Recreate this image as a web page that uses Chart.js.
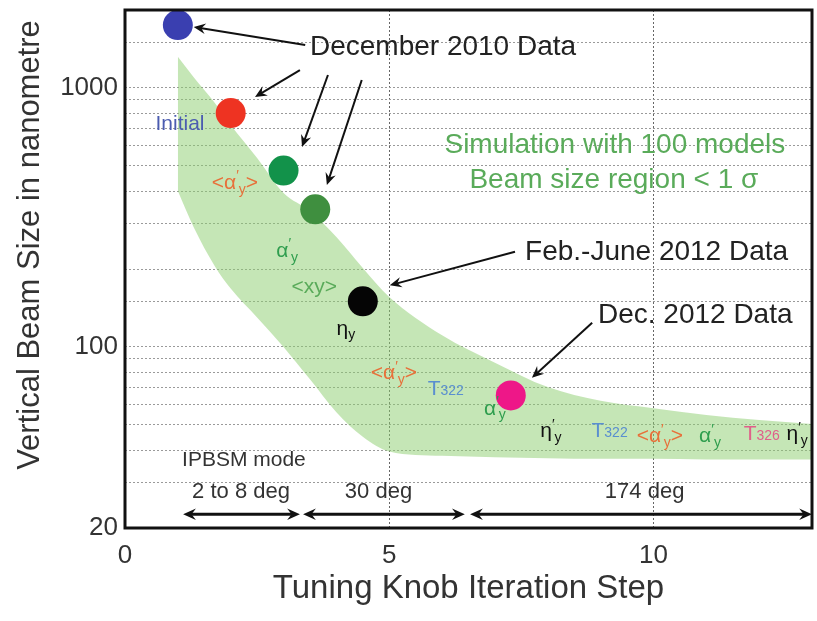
<!DOCTYPE html>
<html>
<head>
<meta charset="utf-8">
<script src="https://cdn.jsdelivr.net/npm/chart.js@4.4.0/dist/chart.umd.min.js"></script>
<style>
  html, body { margin: 0; padding: 0; background: #fff; }
</style>
</head>
<body>
<canvas id="beamChart" width="817" height="621"></canvas>
<script>
// measured beam size at each tuning step
const stepX = [1, 2, 3, 3.6, 4.5, 7.3];
const beamSize = [1750, 800, 480, 340, 150, 65];
const pointColors = ['#3a3fb0', '#ee3322', '#12924a', '#3f8f3f', '#050505', '#ee1788'];

// simulation band (100 models, < 1 sigma)
const bandX = [1, 1.3, 1.7, 2, 2.5, 3, 3.5, 4, 4.5, 5, 6, 7, 8, 9, 10, 11, 12, 13];
const bandUpper = [1320, 1100, 875, 720, 537, 393, 335, 266, 202, 156, 111, 87, 70, 62, 58, 54.6, 52.2, 50.4];
const bandLower = [400, 290, 205, 168, 130, 100, 75, 56, 45, 39.5, 38, 37.5, 37.2, 37, 37, 36.8, 36.8, 36.8];

// axis ticks
const yTickLabels = [20, 100, 1000];
const xTickStep = 5;

const FONT = "'Liberation Sans', Arial, sans-serif";

// helpers for the annotation layer
const sub = (t) => [t, 'sub'];
const sup = (t) => [t, 'sup'];
const small = (t) => [t, 'small'];
const alphaY = [['α', ''], sup('′'), sub('y')];
const bracketAlpha = [['<α', ''], sup('′'), sub('y'), ['>', '']];
const etaPrime = [['η', ''], sup('′'), sub('y')];

const orange = '#e8703a', green = '#2f9e4e', lgreen = '#5aab5a', blue = '#5a8fd0';

const tagLabels = [
  { x: 1.04, y: 735, parts: [['Initial', '']], color: '#4b5cb0' },
  { x: 2.08, y: 434, parts: bracketAlpha, color: orange },
  { x: 3.07, y: 237, parts: alphaY, color: green },
  { x: 3.58, y: 172, parts: [['<xy>', '']], color: lgreen },
  { x: 4.18, y: 119, parts: [['η', ''], sub('y')], color: '#111' },
  { x: 5.09, y: 80, parts: bracketAlpha, color: orange },
  { x: 6.07, y: 69.4, parts: [['T', ''], small('322')], color: blue },
  { x: 7.0, y: 58.5, parts: alphaY, color: green },
  { x: 8.06, y: 47.8, parts: etaPrime, color: '#111' },
  { x: 9.17, y: 47.8, parts: [['T', ''], small('322')], color: blue },
  { x: 10.12, y: 45.7, parts: bracketAlpha, color: orange },
  { x: 11.07, y: 45.7, parts: alphaY, color: green },
  { x: 12.05, y: 46.5, parts: [['T', ''], small('326')], color: '#e0608a' },
  { x: 12.72, y: 46.5, parts: etaPrime, color: '#111' }
];

const bigLabels = [
  { x: 3.5, y: 1440, text: 'December 2010 Data', align: 'left', size: 28, color: '#222' },
  { x: 9.27, y: 603, text: 'Simulation with 100 models', align: 'center', size: 28, color: lgreen },
  { x: 9.25, y: 441, text: 'Beam size region < 1 σ', align: 'center', size: 28, color: lgreen },
  { x: 7.57, y: 233, text: 'Feb.-June 2012 Data', align: 'left', size: 28, color: '#222' },
  { x: 8.95, y: 133, text: 'Dec. 2012 Data', align: 'left', size: 28, color: '#222' },
  { x: 1.08, y: 36.6, text: 'IPBSM mode', align: 'left', size: 21, color: '#333' },
  { x: 1.27, y: 27.5, text: '2 to 8 deg', align: 'left', size: 22, color: '#333' },
  { x: 4.16, y: 27.5, text: '30 deg', align: 'left', size: 22, color: '#333' },
  { x: 9.08, y: 27.5, text: '174 deg', align: 'left', size: 22, color: '#333' }
];

// [x1, y1, x2, y2, doubleHeaded]
const arrows = [
  [3.41, 1466, 1.3, 1720, false],
  [3.31, 1173, 2.46, 923, false],
  [3.84, 1122, 3.35, 592, false],
  [4.48, 1073, 3.82, 422, false],
  [7.38, 233, 5.01, 173, false],
  [8.84, 124, 7.7, 76, false],
  [1.1, 22.6, 3.31, 22.6, true],
  [3.37, 22.6, 6.43, 22.6, true],
  [6.53, 22.6, 13, 22.6, true]
];

function arrowHead(ctx, x1, y1, x2, y2, h) {
  const a = Math.atan2(y2 - y1, x2 - x1);
  ctx.beginPath();
  ctx.moveTo(x2, y2);
  ctx.lineTo(x2 - h * Math.cos(a - 0.42), y2 - h * Math.sin(a - 0.42));
  ctx.lineTo(x2 - h * 0.6 * Math.cos(a), y2 - h * 0.6 * Math.sin(a));
  ctx.lineTo(x2 - h * Math.cos(a + 0.42), y2 - h * Math.sin(a + 0.42));
  ctx.closePath();
  ctx.fill();
}

function drawArrow(ctx, x1, y1, x2, y2, both) {
  const lw = both ? 3 : 2;
  const h = both ? 14 : 13;
  ctx.lineWidth = lw;
  ctx.strokeStyle = '#111';
  ctx.fillStyle = '#111';
  const a = Math.atan2(y2 - y1, x2 - x1);
  const cut = h * 0.5;
  ctx.beginPath();
  ctx.moveTo(both ? x1 + cut * Math.cos(a) : x1, both ? y1 + cut * Math.sin(a) : y1);
  ctx.lineTo(x2 - cut * Math.cos(a), y2 - cut * Math.sin(a));
  ctx.stroke();
  arrowHead(ctx, x1, y1, x2, y2, h);
  if (both) arrowHead(ctx, x2, y2, x1, y1, h);
}

function fontFor(mode, size) {
  const s = mode === '' ? size : Math.round(size * 0.68);
  return s + 'px ' + FONT;
}

function drawRich(ctx, parts, cx, cy, size, color) {
  let total = 0;
  parts.forEach(p => {
    ctx.font = fontFor(p[1], size);
    total += ctx.measureText(p[0]).width;
  });
  let x = cx - total / 2;
  ctx.fillStyle = color;
  ctx.textAlign = 'left';
  ctx.textBaseline = 'alphabetic';
  const base = cy + size * 0.35;
  parts.forEach(p => {
    ctx.font = fontFor(p[1], size);
    let y = base;
    if (p[1] === 'sub') y = base + size * 0.22;
    if (p[1] === 'sup') y = base - size * 0.42;
    ctx.fillText(p[0], x, y);
    x += ctx.measureText(p[0]).width;
  });
}

const notesPlugin = {
  id: 'notes',
  afterDatasetsDraw(chart) {
    const { ctx, chartArea: a } = chart;
    const sx = chart.scales.x, sy = chart.scales.y;
    ctx.save();

    // plot frame
    ctx.strokeStyle = '#111';
    ctx.lineWidth = 3;
    ctx.strokeRect(a.left, a.top, a.right - a.left, a.bottom - a.top);

    arrows.forEach(r => {
      drawArrow(ctx, sx.getPixelForValue(r[0]), sy.getPixelForValue(r[1]),
        sx.getPixelForValue(r[2]), sy.getPixelForValue(r[3]), r[4]);
    });

    bigLabels.forEach(l => {
      ctx.font = l.size + 'px ' + FONT;
      ctx.fillStyle = l.color;
      ctx.textAlign = l.align;
      ctx.textBaseline = 'middle';
      ctx.fillText(l.text, sx.getPixelForValue(l.x), sy.getPixelForValue(l.y));
    });

    tagLabels.forEach(l => {
      drawRich(ctx, l.parts, sx.getPixelForValue(l.x), sy.getPixelForValue(l.y), 21, l.color);
    });

    // y axis title, sits a bit above the plot centre in the original
    ctx.translate(30, 245);
    ctx.rotate(-Math.PI / 2);
    ctx.font = '31px ' + FONT;
    ctx.fillStyle = '#333';
    ctx.textAlign = 'center';
    ctx.textBaseline = 'middle';
    ctx.fillText('Vertical Beam Size in nanometre', 0, 0);

    ctx.restore();
  }
};

const ctx = document.getElementById('beamChart').getContext('2d');
new Chart(ctx, {
  type: 'line',
  data: {
    datasets: [
      {
        label: 'Simulation upper',
        data: bandX.map((x, i) => ({ x: x, y: bandUpper[i] })),
        borderWidth: 0,
        pointRadius: 0,
        backgroundColor: 'rgba(140, 205, 110, 0.5)',
        fill: '+1',
        order: 2,
        cubicInterpolationMode: 'monotone'
      },
      {
        label: 'Simulation lower',
        data: bandX.map((x, i) => ({ x: x, y: bandLower[i] })),
        borderWidth: 0,
        pointRadius: 0,
        fill: false,
        order: 2,
        cubicInterpolationMode: 'monotone'
      },
      {
        type: 'scatter',
        label: 'Measured',
        data: stepX.map((x, i) => ({ x: x, y: beamSize[i] })),
        pointRadius: 15,
        pointBorderWidth: 0,
        pointBackgroundColor: pointColors,
        order: 0,
        showLine: false
      }
    ]
  },
  options: {
    responsive: false,
    animation: false,
    events: [],
    layout: { autoPadding: false, padding: { top: 10, right: 5, left: 0, bottom: 0 } },
    plugins: {
      legend: { display: false },
      tooltip: { enabled: false }
    },
    scales: {
      x: {
        type: 'linear',
        min: 0,
        max: 13,
        afterFit: (s) => { s.height = 93; s.paddingLeft = 0; s.paddingRight = 0; },
        border: { display: false, dash: [2, 2] },
        grid: {
          drawTicks: false,
          color: (c) => (c.tick && c.tick.value > 0 ? '#666' : 'rgba(0,0,0,0)'),
          lineWidth: 1
        },
        ticks: {
          stepSize: xTickStep,
          includeBounds: false,
          padding: 12,
          color: '#333',
          font: { family: FONT, size: 26 }
        },
        title: {
          display: true,
          text: 'Tuning Knob Iteration Step',
          color: '#333',
          font: { family: FONT, size: 33 },
          padding: { top: 0, bottom: 12 }
        }
      },
      y: {
        type: 'logarithmic',
        min: 20,
        max: 2000,
        afterFit: (s) => { s.width = 125; s.paddingTop = 0; s.paddingBottom = 0; },
        border: { display: false, dash: [2, 2] },
        grid: {
          drawTicks: false,
          color: '#9a9a9a',
          lineWidth: 1
        },
        ticks: {
          autoSkip: false,
          padding: 7,
          color: '#333',
          font: { family: FONT, size: 26 },
          callback: (v) => (yTickLabels.includes(v) ? String(v) : '')
        },
        title: { display: false }
      }
    }
  },
  plugins: [notesPlugin]
});
</script>
</body>
</html>
